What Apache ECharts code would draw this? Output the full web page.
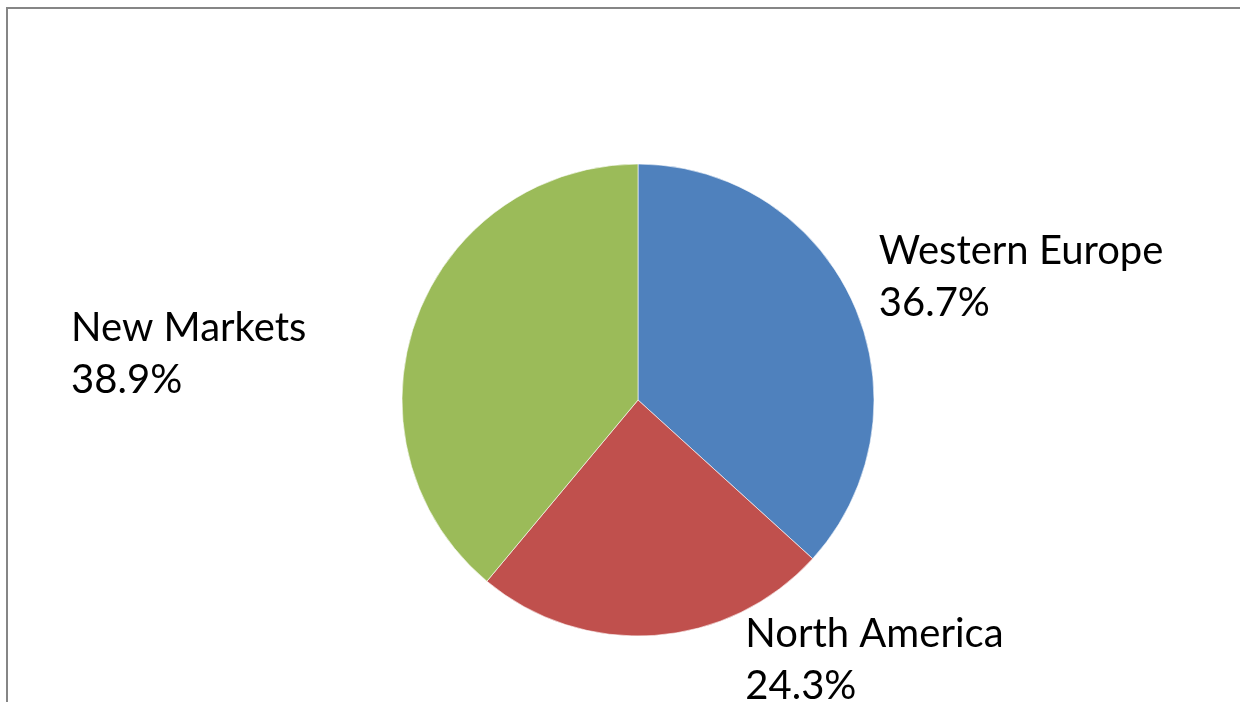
<!DOCTYPE html>
<html style="height: 100%">

<head>
    <meta charset="utf-8">
    <script src="https://cdn.jsdelivr.net/npm/echarts@6/dist/echarts.min.js"></script>
</head>

<body style="height: 100%; margin: 0; background: #fff">
    <div id="main" style="width: 1240px; height: 702px"></div>
    <script type="text/javascript">
        var regions = ['Western Europe', 'North America', 'New Markets'];
        var shares = [36.7, 24.3, 38.9];
        var sliceColors = ['#4F81BD', '#C0504D', '#9BBB59'];

        // nudges for the data labels, per slice (labels are all left aligned)
        var labelShift = [[20, -27], [86, 25], [-340, 34]];

        var myChart = echarts.init(document.getElementById('main'));
        myChart.setOption({
            animation: false,
            color: sliceColors,
            graphic: [{
                type: 'rect',
                shape: { x: 7, y: 8, width: 1300, height: 800 },
                style: { fill: 'none', stroke: '#868686', lineWidth: 2 },
                silent: true
            }],
            series: [{
                type: 'pie',
                center: [638, 400],
                radius: 236,
                startAngle: 90,
                clockwise: true,
                itemStyle: { borderColor: '#fff', borderWidth: 0.6 },
                label: {
                    show: true,
                    position: 'outside',
                    fontFamily: 'Lato',
                    fontSize: 40,
                    lineHeight: 52,
                    color: '#000',
                    formatter: function (p) {
                        return p.name + '\n' + p.value.toFixed(1) + '%';
                    }
                },
                labelLine: { show: false, length: 0, length2: 0 },
                labelLayout: function (params) {
                    var s = labelShift[params.dataIndex];
                    return { dx: s[0], dy: s[1], align: 'left' };
                },
                data: regions.map(function (name, i) {
                    return { name: name, value: shares[i] };
                })
            }]
        });
    </script>
</body>

</html>
